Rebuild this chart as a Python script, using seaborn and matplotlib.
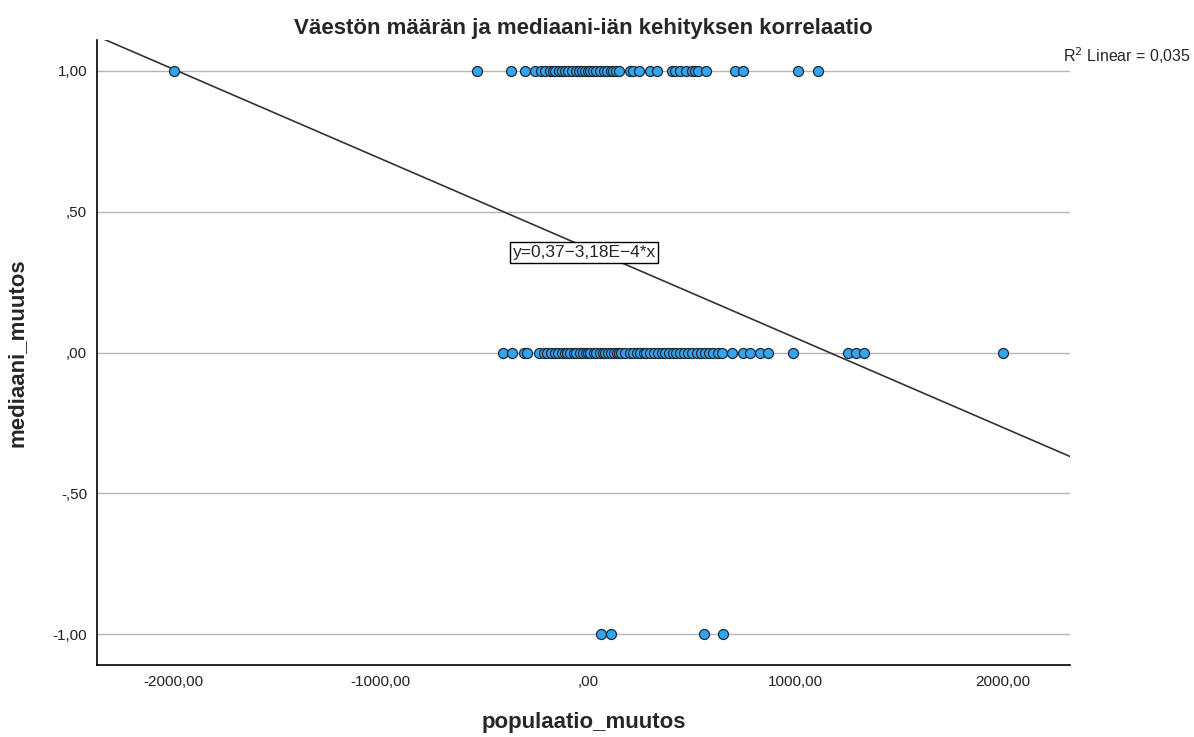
import numpy as np
import pandas as pd
import matplotlib
matplotlib.use('Agg')
import matplotlib.pyplot as plt
import seaborn as sns

# population change values per median-age change group
pop_up = [-2000, -534, -373, -304, -256, -230, -207, -185, -170, -159, -140, -125,
          -111, -95, -79, -60, -45, -30, -15, 0, 10, 25, 40, 55, 74, 90, 110, 122,
          135, 151, 203, 215, 247, 299, 334, 404, 420, 444, 470, 500, 515, 532,
          569, 709, 749, 1012, 1111]
pop_same = [-409, -368, -309, -293, -235, -215, -199, -180, -159, -145, -127, -110,
            -100, -87, -70, -58, -40, -23, -10, 0, 10, 26, 40, 58, 70, 82, 95, 110,
            125, 138, 150, 160, 178, 200, 215, 235, 250, 267, 280, 299, 320, 339,
            355, 371, 390, 409, 425, 444, 460, 484, 500, 524, 545, 564, 585, 604,
            625, 645, 693, 746, 781, 830, 870, 987, 1253, 1293, 1331, 2000]
pop_down = [61, 111, 560, 650]

# fitted line from the chart
intercept = 0.37
slope = -3.18e-4

xlim = (-2370, 2325)
ylim = (-1.11, 1.11)
xticks = [-2000, -1000, 0, 1000, 2000]
xticklabels = ['-2000,00', '-1000,00', ',00', '1000,00', '2000,00']
yticks = [-1, -0.5, 0, 0.5, 1]
yticklabels = ['-1,00', '-,50', ',00', ',50', '1,00']

df = pd.DataFrame({
    'populaatio_muutos': pop_up + pop_same + pop_down,
    'mediaani_muutos': [1.0] * len(pop_up) + [0.0] * len(pop_same) + [-1.0] * len(pop_down),
})

sns.set_style('white')
plt.rcParams['font.family'] = ['Liberation Sans', 'DejaVu Sans']

fig = plt.figure(figsize=(11.94, 7.37), dpi=100)
ax = fig.add_axes([0.0812, 0.0977, 0.8150, 0.848])

for yv in yticks:
    ax.axhline(yv, color='#b4b4b4', linewidth=1, zorder=1)

line_x = np.array(xlim)
ax.plot(line_x, intercept + slope * line_x, color='#333333', linewidth=1.2, zorder=2)

sns.scatterplot(data=df, x='populaatio_muutos', y='mediaani_muutos', ax=ax,
                color='#35a4ee', edgecolor='#1e2a33', linewidth=0.9, s=52, zorder=3)

ax.set_xlim(*xlim)
ax.set_ylim(*ylim)
ax.set_xticks(xticks)
ax.set_xticklabels(xticklabels, fontsize=11)
ax.set_yticks(yticks)
ax.set_yticklabels(yticklabels, fontsize=11)
ax.tick_params(length=0, pad=7, colors='#222222')
ax.set_xlabel('populaatio_muutos', fontsize=16, fontweight='bold', labelpad=17)
ax.set_ylabel('mediaani_muutos', fontsize=16, fontweight='bold', labelpad=18)
ax.set_title('Väestön määrän ja mediaani-iän kehityksen korrelaatio',
             fontsize=16, fontweight='bold', pad=4)

for side in ['top', 'right']:
    ax.spines[side].set_visible(False)
for side in ['left', 'bottom']:
    ax.spines[side].set_color('black')
    ax.spines[side].set_linewidth(1.2)

ax.text(-365, 0.355, 'y=0,37\u22123,18E\u22124*x', fontsize=12.5, va='center', ha='left',
        bbox=dict(boxstyle='square,pad=0.15', facecolor='white', edgecolor='black', linewidth=1),
        zorder=4)
fig.text(0.890, 0.925, 'R$^2$ Linear = 0,035', fontsize=11.5, ha='left', va='center')

fig.savefig('out.png', dpi=100)
